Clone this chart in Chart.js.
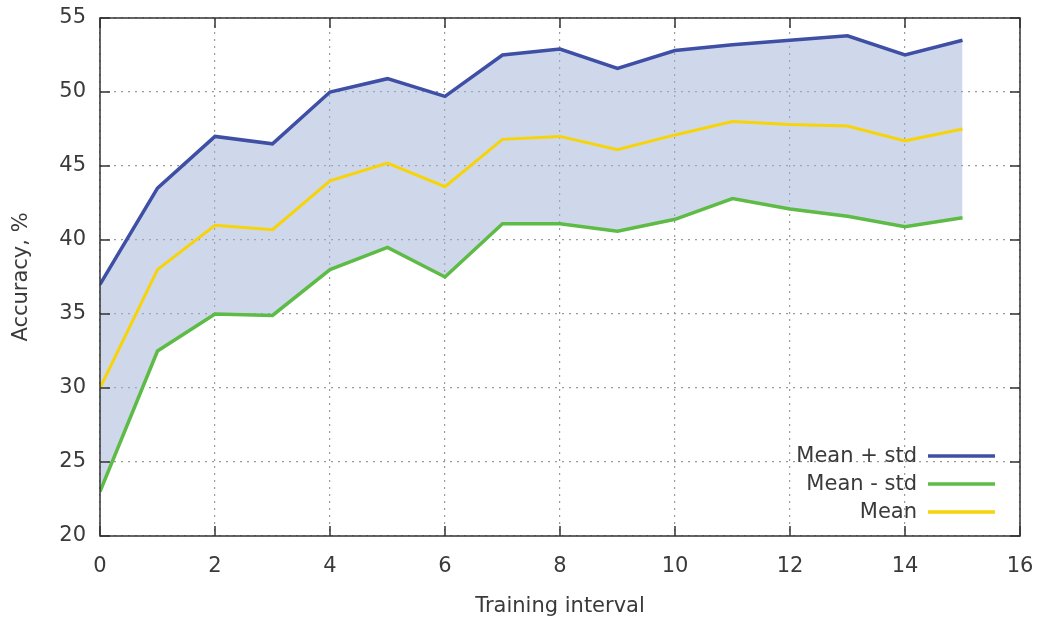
<!DOCTYPE html>
<html>
<head>
<meta charset="utf-8">
<script src="https://cdn.jsdelivr.net/npm/chart.js@4"></script>
<style>
  html, body { margin: 0; padding: 0; background: #fff; }
  #wrap { width: 1039px; height: 621px; position: relative; }
</style>
</head>
<body>
<div id="wrap"><canvas id="chart"></canvas></div>
<script>
// values
const intervals = [0, 1, 2, 3, 4, 5, 6, 7, 8, 9, 10, 11, 12, 13, 14, 15];
const meanPlusStd = [37, 43.5, 47, 46.5, 50, 50.9, 49.7, 52.5, 52.9, 51.6, 52.8, 53.2, 53.5, 53.8, 52.5, 53.5];
const meanMinusStd = [23, 32.5, 35, 34.9, 38, 39.5, 37.5, 41.1, 41.1, 40.6, 41.4, 42.8, 42.1, 41.6, 40.9, 41.5];
const mean = [30, 38, 41, 40.7, 44, 45.2, 43.6, 46.8, 47, 46.1, 47.1, 48, 47.8, 47.7, 46.7, 47.5];

const xTicks = [0, 2, 4, 6, 8, 10, 12, 14, 16];
const yTicks = [20, 25, 30, 35, 40, 45, 50, 55];

const FONT = "'DejaVu Sans', sans-serif";
const TEXT = "#3a3a3a";
const SIZE = 21;

const pts = (ys) => ys.map((y, i) => ({ x: intervals[i], y }));

// gnuplot style frame: full border with inward ticks on all four sides
const framePlugin = {
  id: "frame",
  afterDatasetsDraw(chart) {
    const { ctx, chartArea: a, scales } = chart;
    ctx.save();
    ctx.strokeStyle = "#333";
    ctx.lineWidth = 1.5;
    ctx.strokeRect(a.left, a.top, a.right - a.left, a.bottom - a.top);
    ctx.beginPath();
    xTicks.forEach((v) => {
      const px = scales.x.getPixelForValue(v);
      ctx.moveTo(px, a.bottom); ctx.lineTo(px, a.bottom - 10);
      ctx.moveTo(px, a.top); ctx.lineTo(px, a.top + 10);
    });
    yTicks.forEach((v) => {
      const py = scales.y.getPixelForValue(v);
      ctx.moveTo(a.left, py); ctx.lineTo(a.left + 10, py);
      ctx.moveTo(a.right, py); ctx.lineTo(a.right - 10, py);
    });
    ctx.stroke();
    ctx.restore();
  },
};

// legend inside bottom right: text right aligned, then a line sample
const legendPlugin = {
  id: "innerLegend",
  afterDraw(chart) {
    const { ctx, chartArea: a } = chart;
    ctx.save();
    ctx.font = SIZE + "px " + FONT;
    ctx.fillStyle = TEXT;
    ctx.textAlign = "right";
    ctx.textBaseline = "middle";
    chart.data.datasets.forEach((ds, row) => {
      const y = a.bottom - 80 + row * 28;
      ctx.fillText(ds.label, a.right - 103, y + 1);
      ctx.strokeStyle = ds.borderColor;
      ctx.lineWidth = 3.5;
      ctx.beginPath();
      ctx.moveTo(a.right - 92, y);
      ctx.lineTo(a.right - 25, y);
      ctx.stroke();
    });
    ctx.restore();
  },
};

const gridOpts = {
  color: "#9a9a9a",
  lineWidth: 1.2,
  drawTicks: false,
};

new Chart(document.getElementById("chart"), {
  type: "line",
  data: {
    datasets: [
      {
        label: "Mean + std",
        data: pts(meanPlusStd),
        borderColor: "#3f4fa5",
        backgroundColor: "rgba(160,178,214,0.5)",
        borderWidth: 3.5,
        fill: 1,
        pointRadius: 0,
      },
      {
        label: "Mean - std",
        data: pts(meanMinusStd),
        borderColor: "#5dbb46",
        borderWidth: 3.5,
        fill: false,
        pointRadius: 0,
      },
      {
        label: "Mean",
        data: pts(mean),
        borderColor: "#f7d40a",
        borderWidth: 3,
        fill: false,
        pointRadius: 0,
      },
    ],
  },
  options: {
    responsive: true,
    maintainAspectRatio: false,
    animation: false,
    layout: { padding: { top: 18, right: 19, left: 0, bottom: 0 } },
    plugins: {
      legend: { display: false },
      tooltip: { enabled: false },
      filler: { drawTime: "beforeDatasetsDraw" },
    },
    scales: {
      x: {
        type: "linear",
        min: 0,
        max: 16,
        afterBuildTicks: (s) => { s.ticks = xTicks.map((v) => ({ value: v })); },
        afterFit: (s) => { s.height = 85; s.paddingLeft = 0; s.paddingRight = 0; },
        grid: { ...gridOpts },
        border: { display: false, dash: [2, 5] },
        ticks: { font: { family: FONT, size: SIZE }, color: TEXT, padding: 18 },
        title: {
          display: true,
          text: "Training interval",
          font: { family: FONT, size: SIZE },
          color: TEXT,
          padding: { top: 12, bottom: 2 },
        },
      },
      y: {
        min: 20,
        max: 55,
        afterBuildTicks: (s) => { s.ticks = yTicks.map((v) => ({ value: v })); },
        afterFit: (s) => { s.width = 100; s.paddingTop = 0; s.paddingBottom = 0; },
        grid: { ...gridOpts },
        border: { display: false, dash: [2, 5] },
        ticks: { font: { family: FONT, size: SIZE }, color: TEXT, padding: 14 },
        title: {
          display: true,
          text: "Accuracy, %",
          font: { family: FONT, size: SIZE },
          color: TEXT,
          padding: { top: 9, bottom: 0 },
        },
      },
    },
  },
  plugins: [framePlugin, legendPlugin],
});
</script>
</body>
</html>
